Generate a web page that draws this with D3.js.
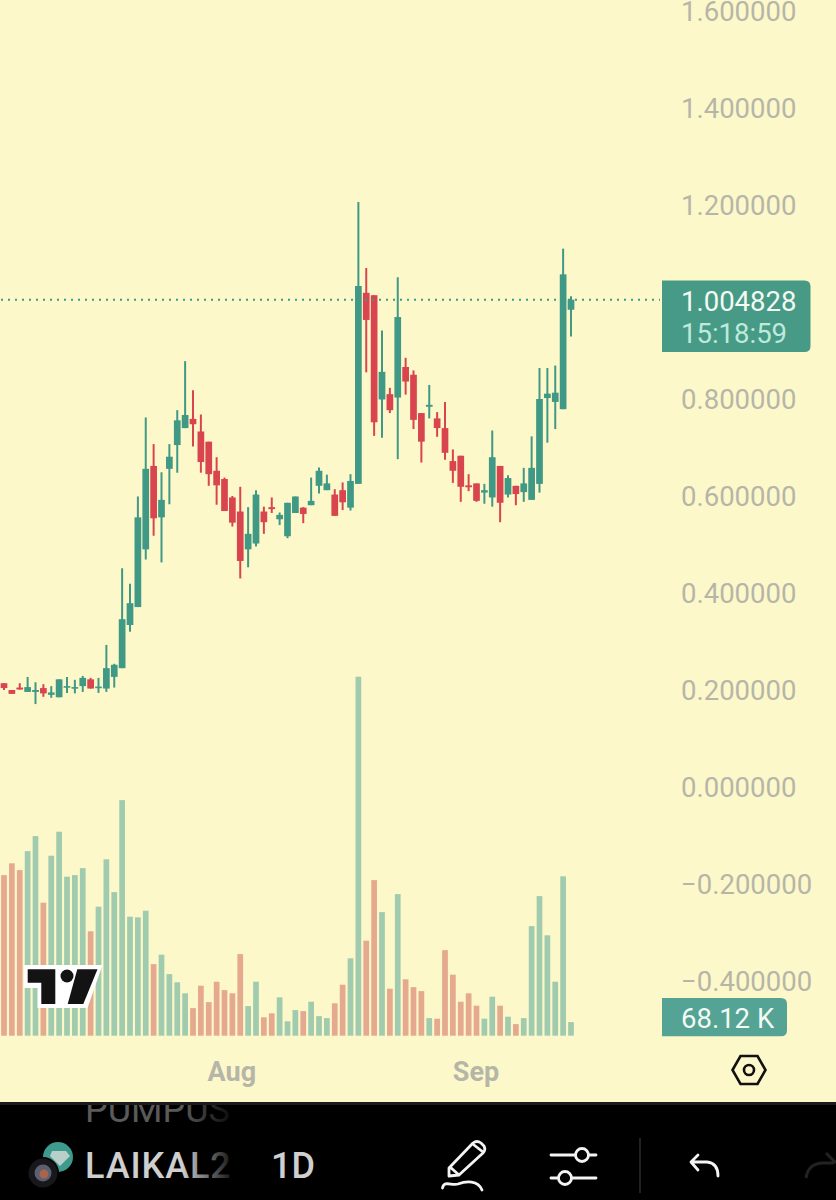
<!DOCTYPE html>
<html><head><meta charset="utf-8">
<script src="https://cdn.jsdelivr.net/npm/d3@7/dist/d3.min.js"></script>
<style>html,body{margin:0;padding:0;background:#000}svg{display:block}text{font-family:Roboto,sans-serif}</style>
</head><body><svg id="c" width="836" height="1200"></svg>
<script>
const firstDay = Date.UTC(2023, 6, 3);
const opens  = [.214,.200,.205,.196,.196,.204,.190,.185,.205,.203,.208,.222,.204,.203,.227,.245,.334,.371,.490,.662,.556,.656,.705,.740,.759,.733,.712,.652,.635,.597,.568,.490,.502,.568,.577,.552,.517,.565,.576,.581,.621,.612,.603,.612,.576,.625,1.019,1.014,.799,.810,.803,.866,.850,.771,.784,.760,.740,.672,.683,.622,.626,.607,.597,.662,.603,.621,.608,.592,.625,.802,.794,.779,.984];
const closes = [.204,.192,.201,.206,.200,.193,.195,.222,.208,.206,.225,.203,.207,.245,.252,.346,.379,.556,.656,.554,.592,.681,.756,.767,.748,.670,.645,.622,.569,.545,.466,.522,.603,.546,.573,.561,.586,.599,.563,.590,.652,.626,.559,.587,.631,1.033,.963,.752,.856,.777,.969,.836,.757,.712,.788,.740,.689,.652,.619,.618,.590,.612,.680,.586,.637,.604,.626,.658,.800,.811,.813,1.057,1.004828];
const highs  = [.214,.200,.214,.227,.216,.212,.208,.222,.227,.221,.229,.225,.225,.293,.254,.451,.419,.599,.762,.707,.649,.707,.777,.878,.818,.768,.712,.680,.638,.600,.619,.577,.612,.578,.597,.566,.586,.599,.577,.638,.659,.644,.614,.628,.645,1.206,1.070,1.014,.941,.823,1.051,.885,.859,.771,.829,.773,.794,.696,.683,.645,.626,.625,.735,.662,.643,.621,.658,.723,.864,.864,.869,1.110,1.012];
const lows   = [.200,.192,.201,.196,.171,.186,.184,.185,.194,.193,.196,.203,.194,.196,.205,.245,.320,.371,.469,.518,.463,.583,.648,.740,.702,.648,.621,.582,.569,.537,.430,.453,.496,.522,.565,.540,.513,.565,.544,.581,.605,.612,.559,.571,.570,.625,.855,.724,.720,.771,.676,.809,.738,.669,.760,.722,.675,.627,.588,.610,.588,.584,.578,.546,.597,.581,.588,.592,.607,.710,.738,.779,.929];
const volumes = [803,862,828,923,998,665,900,1020,795,803,838,522,645,882,718,1178,595,592,625,358,405,308,267,212,138,250,168,270,228,212,408,148,270,92,112,192,72,128,123,170,98,88,162,255,387,1795,475,778,618,235,708,282,243,223,88,85,428,305,170,212,150,85,195,150,95,58,88,548,698,502,270,797,68.12];
const volumeUp = [0,0,0,1,1,0,1,1,1,1,1,0,1,1,1,1,1,1,1,0,1,1,1,1,0,0,0,0,0,0,0,1,1,0,0,1,1,1,0,1,1,1,0,0,1,1,0,0,1,0,1,0,0,0,1,0,0,0,0,0,0,1,1,0,1,0,1,1,1,1,1,1,1];
const priceTicks = [1.6,1.4,1.2,1.0,.8,.6,.4,.2,0,-.2,-.4];
const timeTicks = [Date.UTC(2023,7,1), Date.UTC(2023,8,1)];
const lastPrice = 1.004828, countdown = "15:18:59", volumeLabel = "68.12 K", symbol = "LAIKAL2", prevSymbol = "PUMPUS", interval = "1D";

const UP="#3f9985", DOWN="#d9454f", VUP="#a0cbae", VDOWN="#e5a98f", BG="#fdf8ca", AXIS="#b6b6a8";
const svg=d3.select("#c");
const days=opens.map((_,i)=>firstDay+i*864e5);
const x=d3.scaleUtc().domain([days[0],days[72]]).range([4,571]);
const y=d3.scaleLinear().domain([0,1.6]).range([787,11]);
const yv=d3.scaleLinear().domain([0,2000]).range([1035.7,635.7]);

const defs=svg.append("defs");
const grad=(id,c,a)=>{const g=defs.append("linearGradient").attr("id",id).attr("gradientUnits","userSpaceOnUse").attr("x1",85).attr("x2",232).attr("y1",0).attr("y2",0);
 g.append("stop").attr("offset",.66).attr("stop-color",c);
 g.append("stop").attr("offset",1).attr("stop-color",c).attr("stop-opacity",a);};
grad("fade","#cfcfcf",.1);
grad("fade2","#5a5a5a",.12);
defs.append("clipPath").attr("id","bar").append("rect").attr("x",0).attr("y",1105).attr("width",836).attr("height",95);

svg.append("rect").attr("width",836).attr("height",1102).attr("fill",BG);

// volume
svg.append("g").selectAll("rect").data(volumes).join("rect")
 .attr("x",(d,i)=>x(days[i])-2.85).attr("width",5.7)
 .attr("y",d=>yv(d)).attr("height",d=>yv(0)-yv(d))
 .attr("fill",(d,i)=>volumeUp[i]?VUP:VDOWN);

// logo
svg.append("polygon").attr("fill","#fff").attr("points","24,965 102.5,965 87.5,1008 37.5,1008 37.5,988 24,988");
const logo=svg.append("g").attr("fill","#131313");
logo.append("polygon").attr("points","27.7,969.3 55.3,969.3 55.3,1004 41.3,1004 41.3,982.7 27.7,982.7");
logo.append("circle").attr("cx",67).attr("cy",976).attr("r",6.5);
logo.append("polygon").attr("points","77.3,969.3 97.5,969.3 83.3,1004 67.7,1004");

// candles
const col=i=>closes[i]>=opens[i]?UP:DOWN;
const c=svg.append("g");
c.selectAll("line").data(days).join("line")
 .attr("x1",d=>x(d)).attr("x2",d=>x(d))
 .attr("y1",(d,i)=>y(highs[i])).attr("y2",(d,i)=>y(lows[i]))
 .attr("stroke",(d,i)=>col(i)).attr("stroke-width",2);
c.selectAll("rect").data(days).join("rect")
 .attr("x",d=>x(d)-3.35).attr("width",6.7)
 .attr("y",(d,i)=>y(Math.max(opens[i],closes[i])))
 .attr("height",(d,i)=>Math.max(1.6,y(Math.min(opens[i],closes[i]))-y(Math.max(opens[i],closes[i]))))
 .attr("fill",(d,i)=>col(i));

// last price line
svg.append("line").attr("x1",1).attr("x2",660).attr("y1",y(lastPrice)).attr("y2",y(lastPrice))
 .attr("stroke",UP).attr("stroke-width",2).attr("stroke-dasharray","2 5");

// price axis
const fmt=v=>(v<0?"\u2212":"")+Math.abs(v).toFixed(6);
const ay=svg.append("g").attr("transform","translate(681,0)")
 .call(d3.axisRight(y).tickValues(priceTicks).tickSize(0).tickPadding(0).tickFormat(fmt));
ay.select(".domain").remove();
ay.selectAll("text").attr("fill",AXIS).attr("font-size",27.5).attr("font-family","Roboto").attr("text-anchor","start")
 .attr("x",0).attr("dy","0.36em");

// time axis
const ax=svg.append("g").attr("transform","translate(0,1071)")
 .call(d3.axisBottom(x).tickValues(timeTicks).tickSize(0).tickPadding(0).tickFormat(d3.utcFormat("%b")));
ax.select(".domain").remove();
ax.selectAll("text").attr("fill",AXIS).attr("font-size",27).attr("font-weight",700).attr("font-family","Roboto").attr("dy","0.36em").attr("y",0).attr("x",-1);

// price label
const box=(x0,x1,y0,y1,r,f)=>svg.append("path").attr("fill",f)
 .attr("d",`M${x0},${y0}H${x1-r}Q${x1},${y0} ${x1},${y0+r}V${y1-r}Q${x1},${y1} ${x1-r},${y1}H${x0}Z`);
box(662,810.5,280.5,352,6,"#479a86");
svg.append("text").attr("x",681).attr("y",310.5).attr("font-size",27.5).attr("fill","#f3fbf3").text(lastPrice.toFixed(6));
svg.append("text").attr("x",681).attr("y",342.5).attr("font-size",27.5).attr("fill","#bdeadb").text(countdown);
box(662,787,998,1036.3,6,"#54a394");
svg.append("text").attr("x",681).attr("y",1027.5).attr("font-size",27.5).attr("fill","#f3fbf3").text(volumeLabel);

// hexagon
const hex=svg.append("g").attr("fill","none").attr("stroke","#111").attr("stroke-width",2.6);
hex.append("polygon").attr("points","732.5,1070 740.5,1056 757.5,1056 765.5,1070 757.5,1084 740.5,1084");
hex.append("circle").attr("cx",749).attr("cy",1070).attr("r",5);

// bottom bar
svg.append("rect").attr("y",1102).attr("width",836).attr("height",98).attr("fill","#000");
svg.append("rect").attr("y",1102).attr("width",836).attr("height",3).attr("fill","#1b1b1b");
svg.append("text").attr("x",85).attr("y",1122).attr("font-size",36).attr("clip-path","url(#bar)").attr("fill","url(#fade2)").text(prevSymbol);
svg.append("circle").attr("cx",58).attr("cy",1157).attr("r",15).attr("fill","#3f9a8e");
svg.append("polygon").attr("points","52,1151 66,1151 70,1156 60,1166 50,1156").attr("fill","#b9cfc9");
svg.append("circle").attr("cx",43).attr("cy",1173).attr("r",16).attr("fill","#000");
svg.append("circle").attr("cx",43).attr("cy",1173).attr("r",14.5).attr("fill","#17171c");
svg.append("circle").attr("cx",43).attr("cy",1173).attr("r",8.5).attr("fill","#5a6070");
svg.append("circle").attr("cx",44).attr("cy",1174).attr("r",4.5).attr("fill","#a9644e");
svg.append("text").attr("x",85).attr("y",1177.5).attr("font-size",36).attr("letter-spacing",.9).attr("font-weight",500).attr("fill","url(#fade)").text(symbol);
svg.append("text").attr("x",271).attr("y",1177.5).attr("font-size",36).attr("font-weight",500).attr("fill","#cfcfcf").text(interval);

const ic=svg.append("g").attr("fill","none").attr("stroke","#f4f4f4").attr("stroke-width",2.8).attr("stroke-linecap","round").attr("stroke-linejoin","round");
ic.append("path").attr("d","M449,1168 L473,1143 Q477,1140 481,1143 L484,1146 Q486,1150 483,1153 L459,1175 L449,1176 Z M474,1145 L483,1152 M450,1167 L459,1175");
ic.append("path").attr("d","M442.5,1188 C444,1180 452,1186 458,1184 C466,1181 478,1180 482,1190");
ic.append("path").attr("d","M551,1155 H575 M589,1155 H596 M551,1178 H558 M572,1178 H596");
ic.append("circle").attr("cx",582).attr("cy",1155).attr("r",6.5);
ic.append("circle").attr("cx",565).attr("cy",1178).attr("r",6.5);
ic.append("path").attr("d","M698,1155 L691,1162 L698,1170 M692,1162 H707 Q718,1163 718,1176");
svg.append("line").attr("x1",640).attr("x2",640).attr("y1",1138).attr("y2",1193).attr("stroke","#2c2c2c").attr("stroke-width",1.5);
svg.append("path").attr("d","M826,1153 L836,1163 M834,1163 H822 Q808,1164 806,1178").attr("fill","none").attr("stroke","#222").attr("stroke-width",3);
</script></body></html>
